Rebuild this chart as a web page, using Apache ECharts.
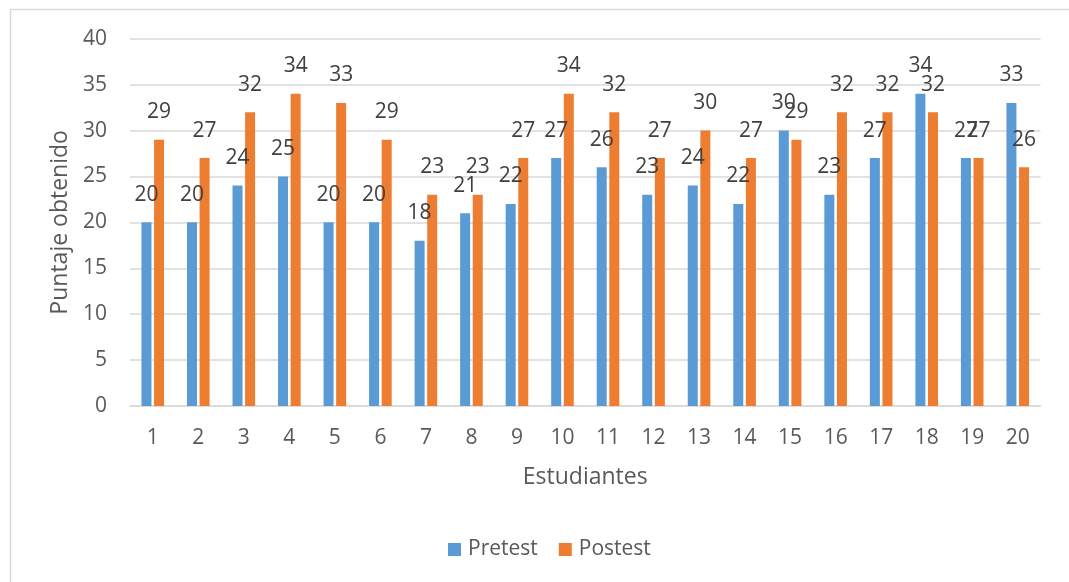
<!DOCTYPE html>
<html>
<head>
<meta charset="utf-8">
<script src="https://cdn.jsdelivr.net/npm/echarts@6/dist/echarts.min.js"></script>
<style>
  html, body { margin: 0; padding: 0; background: #fff; }
  #chart { width: 1069px; height: 582px; }
</style>
</head>
<body>
<div id="chart"></div>
<script>
// Students 1..20 and their scores before and after
const estudiantes = ['1','2','3','4','5','6','7','8','9','10','11','12','13','14','15','16','17','18','19','20'];
const pretest = [20, 20, 24, 25, 20, 20, 18, 21, 22, 27, 26, 23, 24, 22, 30, 23, 27, 34, 27, 33];
const postest = [29, 27, 32, 34, 33, 29, 23, 23, 27, 34, 32, 27, 30, 27, 29, 32, 32, 32, 27, 26];
const yTicks = { min: 0, max: 40, interval: 5 };

const FONT = '"Open Sans", "Liberation Sans", sans-serif';
const chart = echarts.init(document.getElementById('chart'), null, { renderer: 'canvas' });

const labelStyle = {
  show: true,
  position: 'top',
  distance: 17,
  color: '#404040',
  fontFamily: FONT,
  fontSize: 21
};

chart.setOption({
  animation: false,
  backgroundColor: '#ffffff',
  graphic: [{
    type: 'rect',
    shape: { x: 10.5, y: 9.5, width: 1100, height: 620 },
    style: { fill: 'none', stroke: '#d9d9d9', lineWidth: 1.5 },
    silent: true
  }],
  grid: { left: 130, right: 28.5, top: 38.7, bottom: 176 },
  legend: {
    data: ['Pretest', 'Postest'],
    left: 443,
    top: 534,
    itemWidth: 13,
    itemHeight: 13,
    itemGap: 21,
    icon: 'rect',
    textStyle: { color: '#595959', fontFamily: FONT, fontSize: 21, padding: [0, 0, 0, 2] }
  },
  xAxis: {
    type: 'category',
    data: estudiantes,
    name: 'Estudiantes',
    nameLocation: 'middle',
    nameGap: 60,
    nameTextStyle: { color: '#595959', fontFamily: FONT, fontSize: 23 },
    axisLine: { show: true, lineStyle: { color: '#d9d9d9', width: 1.5 } },
    axisTick: { show: false },
    axisLabel: { color: '#595959', fontFamily: FONT, fontSize: 21, margin: 22 }
  },
  yAxis: {
    type: 'value',
    min: yTicks.min,
    max: yTicks.max,
    interval: yTicks.interval,
    name: 'Puntaje obtenido',
    nameLocation: 'middle',
    nameGap: 56,
    nameTextStyle: { color: '#595959', fontFamily: FONT, fontSize: 23 },
    axisLine: { show: false },
    axisTick: { show: false },
    splitLine: { lineStyle: { color: '#d9d9d9', width: 1.5 } },
    axisLabel: { color: '#595959', fontFamily: FONT, fontSize: 21, margin: 23 }
  },
  series: [
    {
      name: 'Pretest',
      type: 'bar',
      data: pretest,
      barWidth: 10,
      barGap: '26%',
      itemStyle: { color: '#5b9bd5' },
      label: labelStyle
    },
    {
      name: 'Postest',
      type: 'bar',
      data: postest,
      barWidth: 10,
      barGap: '26%',
      itemStyle: { color: '#ed7d31' },
      label: labelStyle
    }
  ]
});
</script>
</body>
</html>
